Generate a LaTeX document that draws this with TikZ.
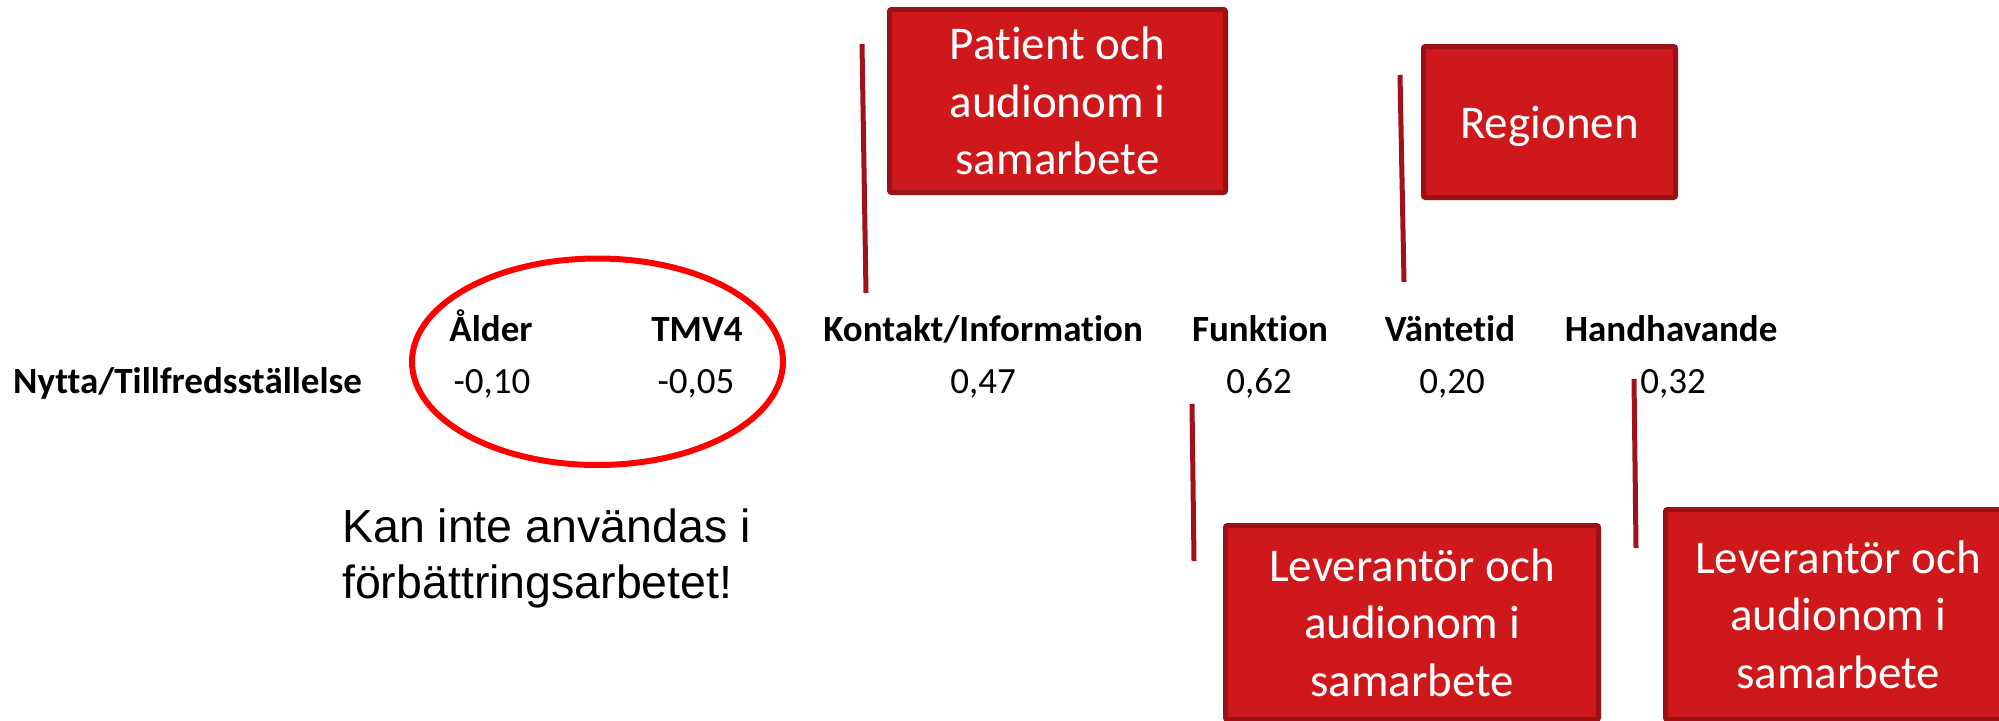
\documentclass[tikz,border=0pt]{standalone}
\usepackage{fontspec}
\setmainfont{Carlito}[Ligatures={NoCommon}]
\newfontfamily\arialf{Liberation Sans}
\definecolor{boxfill}{RGB}{206,24,27}
\definecolor{boxedge}{RGB}{155,17,22}
\definecolor{polecol}{RGB}{160,18,26}
\definecolor{ringred}{RGB}{255,0,0}
\tikzset{
  tag/.style={draw=boxedge, fill=boxfill, line width=5pt, rounded corners=2pt,
    inner sep=0pt, text=white, align=center,
    font=\fontsize{47}{57.5}\selectfont},
  pole/.style={draw=polecol, line width=5pt},
  ring/.style={draw=ringred, line width=6pt},
  head/.style={inner sep=0pt, anchor=base, font=\fontsize{37}{44}\selectfont\bfseries},
  val/.style={inner sep=0pt, anchor=base, font=\fontsize{37}{44}\selectfont},
  note/.style={inner sep=0pt, align=left, anchor=base west,
    font=\arialf\fontsize{46.5}{55.5}\selectfont}
}
\begin{document}
\begin{tikzpicture}[x=1pt,y=-1pt]
\useasboundingbox (0,0) rectangle (1999,720);
\clip (0,0) rectangle (1999,720);
% table
\node[val, anchor=base west, font=\fontsize{37}{44}\selectfont\bfseries] (row) at (13,393) {Nytta/Tillfredsställelse};
\node[head] (h1) at (491,341) {Ålder};
\node[head] (h2) at (697,341) {TMV4};
\node[head] (h3) at (983,341) {Kontakt/Information};
\node[head] (h4) at (1260,341) {Funktion};
\node[head] (h5) at (1450,341) {Väntetid};
\node[head] (h6) at (1671,341) {Handhavande};
\node[val] (v1) at (492,393) {-0,10};
\node[val] (v2) at (696,393) {-0,05};
\node[val] (v3) at (983,393) {0,47};
\node[val] (v4) at (1259,393) {0,62};
\node[val] (v5) at (1452,393) {0,20};
\node[val] (v6) at (1673,393) {0,32};
% ring
\draw[ring] (597.5,361.75) ellipse [x radius=185.5, y radius=103.25];
\node[note] (kan) at (342,598) {Kan inte användas i\\förbättringsarbetet!};
% tags
\node[tag, minimum width=336pt, minimum height=183pt] (t1) at (1057.5,101) {Patient och\\audionom i\\samarbete};
\node[tag, minimum width=252pt, minimum height=151pt, text height=34pt, text depth=2pt] (t2) at (1549.5,122) {Regionen};
\node[tag, minimum width=373pt, minimum height=194pt] (t3) at (1412,622.5) {Leverantör och\\audionom i\\samarbete};
\node[tag, minimum width=345pt, minimum height=210pt] (t4) at (1838,614.5) {Leverantör och\\audionom i\\samarbete};
% poles
\coordinate (p1a) at (862,44);  \coordinate (p1b) at (866,293);
\coordinate (p2a) at (1400,75); \coordinate (p2b) at (1404,282);
\coordinate (p3a) at (1192,404);\coordinate (p3b) at (1194,561);
\coordinate (p4a) at (1634,379);\coordinate (p4b) at (1636,548);
\draw[pole] (p1a) -- (p1b);
\draw[pole] (p2a) -- (p2b);
\draw[pole] (p3a) -- (p3b);
\draw[pole] (p4a) -- (p4b);
\end{tikzpicture}
\end{document}
